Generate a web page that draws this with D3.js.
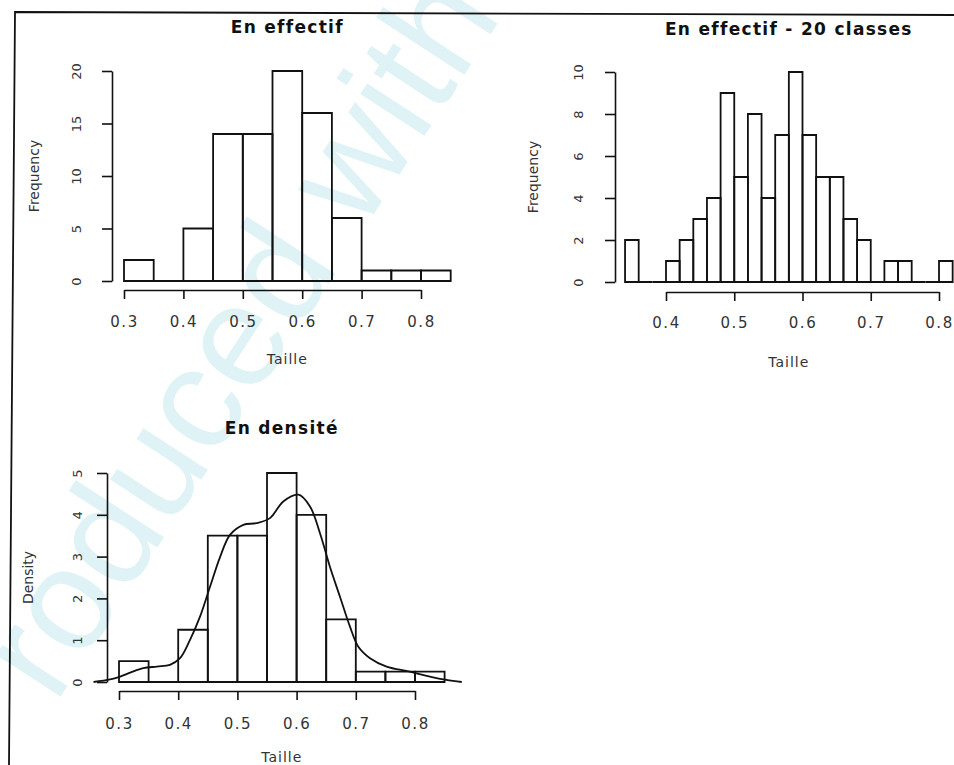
<!DOCTYPE html>
<html>
<head>
<meta charset="utf-8">
<script src="https://cdn.jsdelivr.net/npm/d3@7"></script>
<style>
  body { margin: 0; background: #fff; }
  svg { display: block; }
  .title { font-family: "DejaVu Sans", sans-serif; font-weight: bold; font-size: 17px; letter-spacing: 1.3px; fill: #111; }
  .lab { font-family: "DejaVu Sans", sans-serif; font-size: 14px; fill: #333; }
</style>
</head>
<body>
<svg id="chart" width="954" height="765"></svg>
<script>
// Histogram 1 - counts, 0.05 wide classes
const breaks1 = [0.30, 0.35, 0.40, 0.45, 0.50, 0.55, 0.60, 0.65, 0.70, 0.75, 0.80, 0.85];
const counts1 = [2, 0, 5, 14, 14, 20, 16, 6, 1, 1, 1];
const xTicks1 = [0.3, 0.4, 0.5, 0.6, 0.7, 0.8];
const yTicks1 = [0, 5, 10, 15, 20];

// Histogram 2 - counts, 20 classes (0.02 wide)
const breaks2 = [0.34, 0.36, 0.38, 0.40, 0.42, 0.44, 0.46, 0.48, 0.50, 0.52, 0.54, 0.56, 0.58,
                 0.60, 0.62, 0.64, 0.66, 0.68, 0.70, 0.72, 0.74, 0.76, 0.78, 0.80, 0.82];
const counts2 = [2, 0, 0, 1, 2, 3, 4, 9, 5, 8, 4, 7, 10, 7, 5, 5, 3, 2, 0, 1, 1, 0, 0, 1];
const xTicks2 = [0.4, 0.5, 0.6, 0.7, 0.8];
const yTicks2 = [0, 2, 4, 6, 8, 10];

// Histogram 3 - densities + density curve
const breaks3 = [0.30, 0.35, 0.40, 0.45, 0.50, 0.55, 0.60, 0.65, 0.70, 0.75, 0.80, 0.85];
const density3 = [0.5, 0, 1.25, 3.5, 3.5, 5, 4, 1.5, 0.25, 0.25, 0.25];
const xTicks3 = [0.3, 0.4, 0.5, 0.6, 0.7, 0.8];
const yTicks3 = [0, 1, 2, 3, 4, 5];
const curveX = [0.257, 0.285, 0.302, 0.320, 0.341, 0.364, 0.386, 0.403, 0.420, 0.437, 0.454, 0.471,
                0.4875, 0.510, 0.532, 0.555, 0.5775, 0.603, 0.6226, 0.6395, 0.656, 0.673, 0.690,
                0.704, 0.724, 0.752, 0.791, 0.825, 0.853, 0.879];
const curveY = [0.0, 0.06, 0.13, 0.23, 0.33, 0.37, 0.41, 0.57, 1.01, 1.57, 2.29, 3.0,
                3.52, 3.76, 3.80, 3.92, 4.32, 4.48, 4.20, 3.56, 2.77, 2.05, 1.33,
                0.85, 0.57, 0.37, 0.25, 0.13, 0.05, 0.0];

const ink = "#111";
const svg = d3.select("#chart");

// faint watermark of the scanned page
svg.append("text")
  .attr("transform", "translate(55,705) rotate(-57)")
  .attr("font-family", "Liberation Sans, Arial, sans-serif")
  .attr("font-size", 145)
  .attr("fill", "#dff3f6")
  .text("roduced with permission");

// page frame (top and left edge of the scan)
svg.append("path")
  .attr("d", "M954,15 L15,12 L9,765")
  .attr("fill", "none")
  .attr("stroke", ink)
  .attr("stroke-width", 1.8);

function drawPanel(p) {
  const g = svg.append("g");
  const x = d3.scaleLinear().domain(p.xDomain).range(p.xRange);
  const y = d3.scaleLinear().domain(p.yDomain).range(p.yRange);

  // bars (paths so that empty classes still show as a line)
  g.selectAll(".bar")
    .data(p.heights)
    .join("path")
    .attr("class", "bar")
    .attr("d", (d, i) => {
      const path = d3.path();
      path.moveTo(x(p.breaks[i]), y(0));
      path.lineTo(x(p.breaks[i]), y(d));
      path.lineTo(x(p.breaks[i + 1]), y(d));
      path.lineTo(x(p.breaks[i + 1]), y(0));
      path.closePath();
      return path.toString();
    })
    .attr("fill", "none")
    .attr("stroke", ink)
    .attr("stroke-width", 1.8);

  // x axis, set below the bars like R does
  const xa = g.append("g")
    .attr("transform", `translate(0,${p.xAxisY})`)
    .call(d3.axisBottom(x).tickValues(p.xTicks).tickSize(9).tickSizeOuter(0).tickFormat(d3.format(".1f")))
    .attr("font-family", "DejaVu Sans, sans-serif")
    .attr("font-size", 15);
  xa.select(".domain").attr("stroke", ink).attr("stroke-width", 1.6);
  xa.selectAll(".tick line").attr("stroke", ink).attr("stroke-width", 1.6);
  xa.selectAll(".tick text")
    .attr("y", p.xLabelBase)
    .attr("dy", null)
    .attr("fill", "#333")
    .style("letter-spacing", "1.5px");

  // y axis with labels parallel to the axis
  const ya = g.append("g")
    .attr("transform", `translate(${p.yAxisX},0)`)
    .call(d3.axisLeft(y).tickValues(p.yTicks).tickSize(10).tickSizeOuter(0).tickFormat(d3.format("d")))
    .attr("font-family", "DejaVu Sans, sans-serif")
    .attr("font-size", 13);
  ya.select(".domain").attr("stroke", ink).attr("stroke-width", 1.6);
  ya.selectAll(".tick line").attr("stroke", ink).attr("stroke-width", 1.6);
  ya.selectAll(".tick text")
    .attr("transform", "rotate(-90)")
    .attr("x", 0)
    .attr("y", -p.yLabelOff)
    .attr("dy", "0.35em")
    .attr("text-anchor", "middle")
    .attr("fill", "#333");

  const cx = x((p.breaks[0] + p.breaks[p.breaks.length - 1]) / 2);
  const cy = y((p.yDomain[0] + p.yDomain[1]) / 2);

  g.append("text").attr("class", "title")
    .attr("x", cx).attr("y", p.titleY)
    .attr("text-anchor", "middle")
    .text(p.title);

  g.append("text").attr("class", "lab")
    .attr("x", cx).attr("y", p.xlabY)
    .attr("text-anchor", "middle")
    .style("letter-spacing", "1px")
    .text("Taille");

  g.append("text").attr("class", "lab")
    .attr("transform", `translate(${p.ylabX},${cy}) rotate(-90)`)
    .attr("text-anchor", "middle")
    .text(p.ylab);

  return { g, x, y };
}

drawPanel({
  breaks: breaks1, heights: counts1, xTicks: xTicks1, yTicks: yTicks1,
  xDomain: [0.3, 0.8], xRange: [124, 421], yDomain: [0, 20], yRange: [281, 71],
  xAxisY: 290, xLabelBase: 37, yAxisX: 112, yLabelOff: 36,
  title: "En effectif", titleY: 33, xlabY: 364, ylab: "Frequency", ylabX: 39
});

drawPanel({
  breaks: breaks2, heights: counts2, xTicks: xTicks2, yTicks: yTicks2,
  xDomain: [0.4, 0.8], xRange: [666, 939], yDomain: [0, 10], yRange: [282, 72],
  xAxisY: 292, xLabelBase: 36, yAxisX: 615, yLabelOff: 37,
  title: "En effectif - 20 classes", titleY: 35, xlabY: 367, ylab: "Frequency", ylabX: 538
});

const p3 = drawPanel({
  breaks: breaks3, heights: density3, xTicks: xTicks3, yTicks: yTicks3,
  xDomain: [0.3, 0.8], xRange: [119, 415], yDomain: [0, 5], yRange: [682, 473],
  xAxisY: 691, xLabelBase: 38, yAxisX: 107, yLabelOff: 30,
  title: "En densité", titleY: 434, xlabY: 762, ylab: "Density", ylabX: 33
});

// density curve over the third histogram
const line = d3.line()
  .x(d => p3.x(d[0]))
  .y(d => p3.y(d[1]))
  .curve(d3.curveCatmullRom);
p3.g.append("path")
  .datum(curveX.map((v, i) => [v, curveY[i]]))
  .attr("d", line)
  .attr("fill", "none")
  .attr("stroke", ink)
  .attr("stroke-width", 1.8);
</script>
</body>
</html>
